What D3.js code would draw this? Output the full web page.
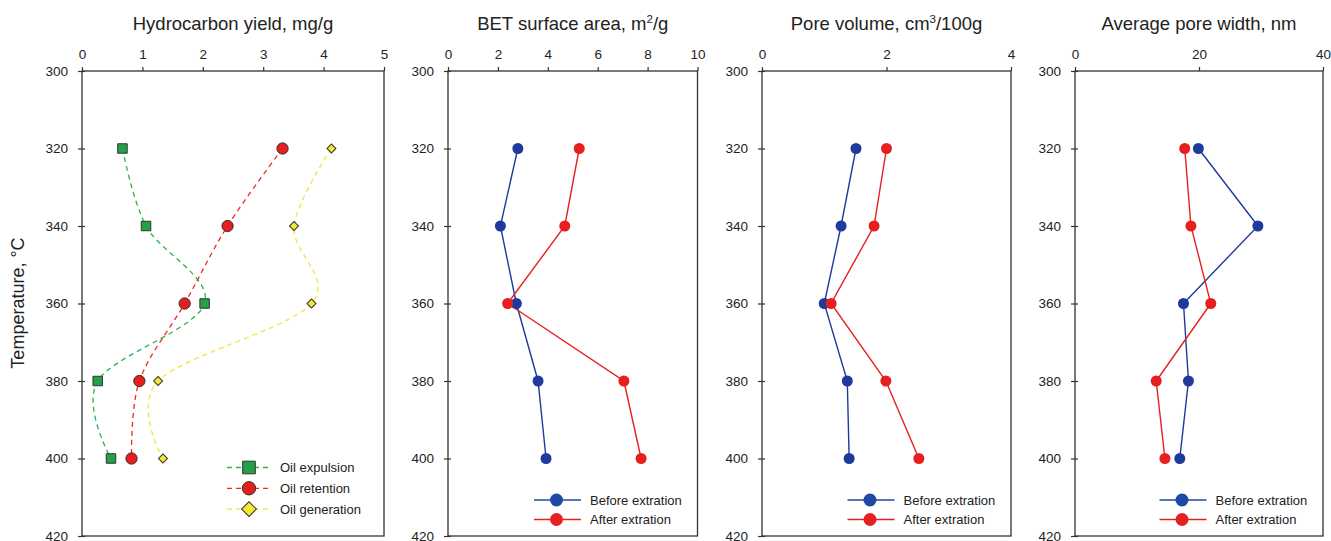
<!DOCTYPE html>
<html lang="en">
  <head>
    <meta charset="utf-8">
    <style>
      body { margin: 0; background: #fff; }
      svg text { font-family: "Liberation Sans", Arial, sans-serif; fill: #222; }
    </style>
  </head>
  <body>
    <div id="viz"></div>
    <script src="https://d3js.org/d3.v7.min.js"></script>
<script type="text/javascript">

var w = 1331, h = 541;

// data
var temps = [320, 340, 360, 380, 400];
var tempTicks = [300, 320, 340, 360, 380, 400, 420];

var oilExpulsion  = [0.67, 1.06, 2.03, 0.26, 0.48];
var oilRetention  = [3.32, 2.41, 1.70, 0.95, 0.82];
var oilGeneration = [4.13, 3.51, 3.80, 1.26, 1.34];

var betBefore = [2.80, 2.10, 2.74, 3.61, 3.93];
var betAfter  = [5.26, 4.68, 2.39, 7.05, 7.74];

var poreVolBefore = [1.51, 1.27, 1.00, 1.37, 1.40];
var poreVolAfter  = [2.00, 1.80, 1.11, 1.99, 2.52];

var poreWidthBefore = [19.9, 29.5, 17.5, 18.3, 16.9];
var poreWidthAfter  = [17.7, 18.7, 21.9, 13.1, 14.5];

var yieldTicks = [0, 1, 2, 3, 4, 5];
var betTicks = [0, 2, 4, 6, 8, 10];
var volTicks = [0, 2, 4];
var widthTicks = [0, 20, 40];

var extractLabels = ["Before extration", "After extration"];
var oilLabels = ["Oil expulsion", "Oil retention", "Oil generation"];

var plotTop = 71, plotBottom = 536;
var BLUE = "#1d3a9c", RED = "#e5201f";

var svg = d3.select("#viz")
        .append("svg")
        .attr("width", w)
        .attr("height", h);

var y = d3.scaleLinear().domain([300, 420]).range([plotTop, plotBottom]);

function drawPanel(x0, x1, maxX, ticks, title, sup, tail){
  var x = d3.scaleLinear().domain([0, maxX]).range([x0, x1]);
  var g = svg.append("g");

  // frame
  g.append("rect")
    .attr("x", x0).attr("y", plotTop)
    .attr("width", x1 - x0).attr("height", plotBottom - plotTop)
    .attr("fill", "none").attr("stroke", "#333").attr("stroke-width", 1.3);

  var ax = g.append("g")
    .attr("transform", "translate(0," + plotTop + ")")
    .call(d3.axisTop(x).tickValues(ticks).tickFormat(d3.format("d"))
      .tickSize(4).tickSizeOuter(0).tickPadding(8));
  ax.select(".domain").remove();
  ax.selectAll("line").attr("stroke", "#333").attr("stroke-width", 1.2);
  ax.selectAll("text").attr("font-size", 13.5).attr("fill", "#222")
    .style("font-family", "'Liberation Sans', Arial, sans-serif");

  var ay = g.append("g")
    .attr("transform", "translate(" + x0 + ",0)")
    .call(d3.axisLeft(y).tickValues(tempTicks).tickFormat(d3.format("d"))
      .tickSize(4).tickSizeOuter(0).tickPadding(10));
  ay.select(".domain").remove();
  ay.selectAll("line").attr("x1", 3).attr("stroke", "#333").attr("stroke-width", 1.2);
  ay.selectAll("text").attr("font-size", 13.5).attr("fill", "#222")
    .style("font-family", "'Liberation Sans', Arial, sans-serif");

  var t = g.append("text")
    .attr("x", (x0 + x1) / 2).attr("y", 30)
    .attr("text-anchor", "middle").attr("font-size", 18.5);
  t.append("tspan").text(title);
  if(sup){
    t.append("tspan").attr("font-size", 11.5).attr("dy", -7).text(sup);
    t.append("tspan").attr("dy", 7).text(tail);
  }
  return {g: g, x: x};
}

function lineSeries(p, vals, color, curve, dash){
  var pts = temps.map((d, i) => [p.x(vals[i]), y(d)]);
  p.g.append("path")
    .attr("d", d3.line().curve(curve)(pts))
    .attr("fill", "none")
    .attr("stroke", color)
    .attr("stroke-width", dash ? 1.3 : 1.4)
    .attr("stroke-dasharray", dash ? "5,4" : null);
  return pts;
}

function dots(p, pts, color){
  p.g.selectAll(null).data(pts).enter().append("circle")
    .attr("cx", d => d[0]).attr("cy", d => d[1])
    .attr("r", 5.5).attr("fill", color);
}

// ---- panel 1: hydrocarbon yield
var p1 = drawPanel(82, 384, 5, yieldTicks, "Hydrocarbon yield, mg/g");
var smooth = d3.curveCatmullRom.alpha(0);

var gPts = lineSeries(p1, oilExpulsion, "#2fb24c", smooth, true);
var rPts = lineSeries(p1, oilRetention, "#ee2a24", smooth, true);
var yPts = lineSeries(p1, oilGeneration, "#f2e536", smooth, true);

var sq = d3.symbol().type(d3.symbolSquare);
var ci = d3.symbol().type(d3.symbolCircle);

function markers(p, pts, path, fill, rot){
  p.g.selectAll(null).data(pts).enter().append("path")
    .attr("transform", d => "translate(" + d[0] + "," + d[1] + ") rotate(" + (rot || 0) + ")")
    .attr("d", path)
    .attr("fill", fill).attr("stroke", "#333").attr("stroke-width", 1);
}
markers(p1, gPts, sq.size(90)(), "#23a146");
markers(p1, rPts, ci.size(100)(), "#e61e1e");
markers(p1, yPts, sq.size(40)(), "#f3ea2f", 45);

// legend panel 1
var oilStyles = [
  {line: "#2fb24c", fill: "#23a146", path: sq.size(160)(), rot: 0},
  {line: "#ee2a24", fill: "#e61e1e", path: ci.size(140)(), rot: 0},
  {line: "#f2e536", fill: "#f3ea2f", path: sq.size(110)(), rot: 45}
];
var lg1 = p1.g.selectAll(null).data(oilLabels).enter().append("g")
  .attr("transform", (d, i) => "translate(227," + (467.5 + i * 20.8) + ")");
lg1.append("line").attr("x1", 0).attr("x2", 45)
  .attr("stroke", (d, i) => oilStyles[i].line).attr("stroke-width", 1.3)
  .attr("stroke-dasharray", "5,4");
lg1.append("path").attr("transform", (d, i) => "translate(22,0) rotate(" + oilStyles[i].rot + ")")
  .attr("d", (d, i) => oilStyles[i].path)
  .attr("fill", (d, i) => oilStyles[i].fill).attr("stroke", "#333").attr("stroke-width", 1);
lg1.append("text").attr("x", 53).attr("dy", "0.35em").attr("font-size", 13).text(d => d);

// ---- panels 2-4
function extractPanel(x0, x1, maxX, ticks, title, sup, tail, before, after){
  var p = drawPanel(x0, x1, maxX, ticks, title, sup, tail);
  var b = lineSeries(p, before, BLUE, d3.curveLinear, false);
  var a = lineSeries(p, after, RED, d3.curveLinear, false);
  dots(p, b, BLUE);
  dots(p, a, RED);
  var lg = p.g.selectAll(null).data(extractLabels).enter().append("g")
    .attr("transform", (d, i) => "translate(" + (x1 - 163.5) + "," + (500 + i * 19.5) + ")");
  lg.append("line").attr("x1", 0).attr("x2", 47)
    .attr("stroke", (d, i) => i ? RED : "#1e4aa6").attr("stroke-width", 1.3);
  lg.append("circle").attr("cx", 22.5).attr("r", 6.5)
    .attr("fill", (d, i) => i ? RED : "#1e4aa6");
  lg.append("text").attr("x", 56).attr("dy", "0.35em").attr("font-size", 13).text(d => d);
}

extractPanel(448, 697.5, 10, betTicks, "BET surface area, m", "2", "/g", betBefore, betAfter);
extractPanel(762, 1011, 4, volTicks, "Pore volume, cm", "3", "/100g", poreVolBefore, poreVolAfter);
extractPanel(1075, 1323, 40, widthTicks, "Average pore width, nm", null, null, poreWidthBefore, poreWidthAfter);

// y axis title
svg.append("text")
  .attr("transform", "translate(24,303) rotate(-90)")
  .attr("text-anchor", "middle").attr("font-size", 18)
  .text("Temperature, °C");

  </script>
  </body>
</html>
